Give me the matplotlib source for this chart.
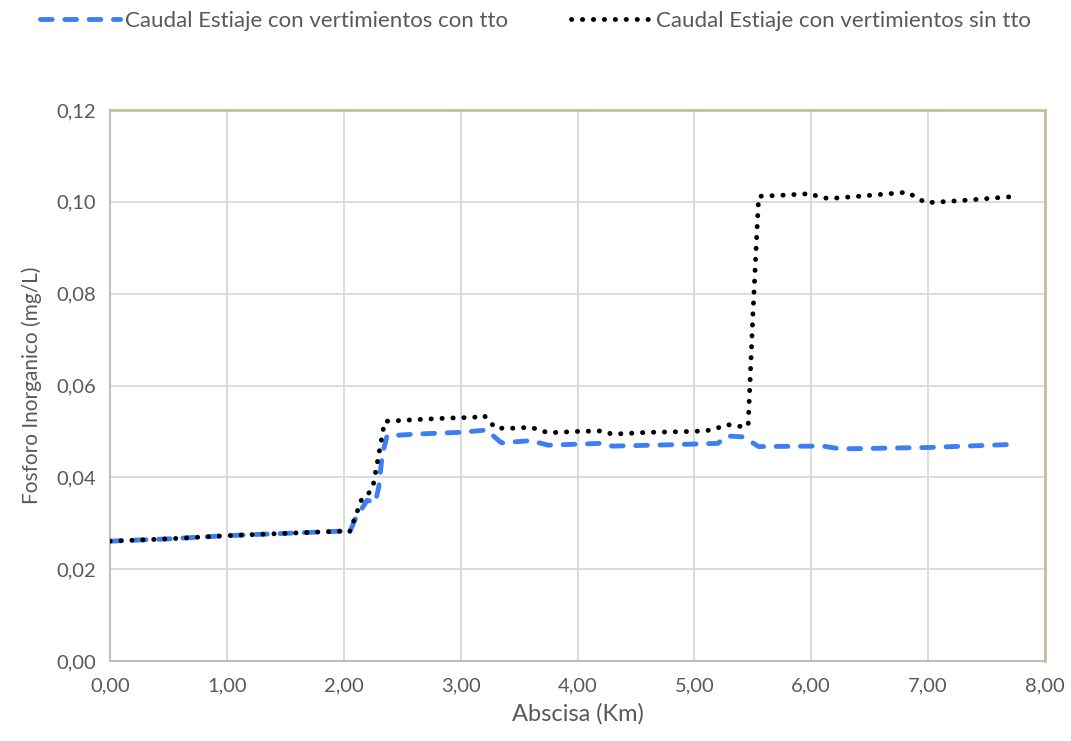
import matplotlib
matplotlib.use("Agg")
import matplotlib.pyplot as plt
from matplotlib.ticker import MultipleLocator, FuncFormatter

plt.rcParams['font.family'] = ['Lato', 'DejaVu Sans']

# Data (Abscisa in km, Fosforo Inorganico in mg/L)
x_sin = [0.0, 0.5, 1.0, 1.5, 2.0, 2.05, 2.1, 2.15, 2.2, 2.25, 2.3, 2.35, 2.5, 2.8, 3.0, 3.1, 3.2,
         3.3, 3.45, 3.6, 3.75, 4.0, 4.2, 4.3, 4.6, 5.0, 5.15, 5.28, 5.38, 5.46, 5.5, 5.55,
         5.8, 6.0, 6.05, 6.15, 6.5, 6.82, 6.98, 7.3, 7.75]
y_sin = [0.0261, 0.0266, 0.0273, 0.0278, 0.0283, 0.0281, 0.0315, 0.0350, 0.0360, 0.0380, 0.0450, 0.0522, 0.0524, 0.0528, 0.0530, 0.0530, 0.0535,
         0.0507, 0.0507, 0.0509, 0.0497, 0.0500, 0.0501, 0.0494, 0.0498, 0.0500, 0.0503, 0.0515, 0.0511, 0.0512, 0.0750, 0.1012,
         0.1015, 0.1018, 0.1012, 0.1007, 0.1014, 0.1021, 0.0998, 0.1003, 0.1012]

x_con = [0.0, 0.5, 1.0, 1.5, 2.0, 2.05, 2.1, 2.2, 2.27, 2.3, 2.33, 2.37, 2.6, 3.0, 3.22,
         3.35, 3.6, 3.75, 4.2, 4.3, 4.8, 5.2, 5.28, 5.42, 5.55, 6.0, 6.1, 6.25, 7.0, 7.75]
y_con = [0.0261, 0.0266, 0.0273, 0.0278, 0.0283, 0.0280, 0.0310, 0.0350, 0.0345, 0.0380, 0.0450, 0.0490, 0.0494, 0.0498, 0.0503,
         0.0475, 0.0480, 0.0470, 0.0474, 0.0468, 0.0471, 0.0474, 0.0490, 0.0488, 0.0467, 0.0468, 0.0468, 0.0462, 0.0465, 0.0472]

label_con = "Caudal Estiaje con vertimientos con tto"
label_sin = "Caudal Estiaje con vertimientos sin tto"

fig = plt.figure(figsize=(10.71, 7.41), dpi=100)
ax = fig.add_axes([110/1071, 1-661/741, (1045-110)/1071, (661-110)/741])

ax.plot(x_con, y_con, color='#3D7FF2', lw=3.5, linestyle=(0, (2.4, 2.6)),
        dash_capstyle='round', solid_capstyle='round', label=label_con, zorder=3)
ax.plot(x_sin, y_sin, color='black', lw=3.5, linestyle=(0, (0.05, 2.2)),
        dash_capstyle='round', label=label_sin, zorder=4)

ax.set_xlim(0, 8)
ax.set_ylim(0, 0.12)
ax.xaxis.set_major_locator(MultipleLocator(1))
ax.yaxis.set_major_locator(MultipleLocator(0.02))
ax.xaxis.set_major_formatter(FuncFormatter(lambda v, p: f"{v:.2f}".replace('.', ',')))
ax.yaxis.set_major_formatter(FuncFormatter(lambda v, p: f"{v:.2f}".replace('.', ',')))
ax.grid(True, color='#D9D9D9', lw=1.3, zorder=0)
ax.set_axisbelow(True)

for s in ['left', 'bottom']:
    ax.spines[s].set_color('#BFBFBF')
    ax.spines[s].set_linewidth(1.5)
for s in ['top', 'right']:
    ax.spines[s].set_color('#C9BF96')
    ax.spines[s].set_linewidth(2)

ax.tick_params(axis='x', length=0, labelsize=14.5, labelcolor='#595959', pad=12)
ax.tick_params(axis='y', length=0, labelsize=14.5, labelcolor='#595959', pad=10)
ax.set_xlabel("Abscisa (Km)", fontsize=17, color='#595959', labelpad=6)
ax.set_ylabel("Fosforo Inorganico (mg/L)", fontsize=15, color='#595959', labelpad=10)

leg = fig.legend(loc='upper center', bbox_to_anchor=(0.5, 1.012), ncol=2, frameon=False,
                 fontsize=16, handlelength=3.6, columnspacing=2.8, handletextpad=0.25)
for t in leg.get_texts():
    t.set_color('#595959')

fig.savefig("out.png", dpi=100)
